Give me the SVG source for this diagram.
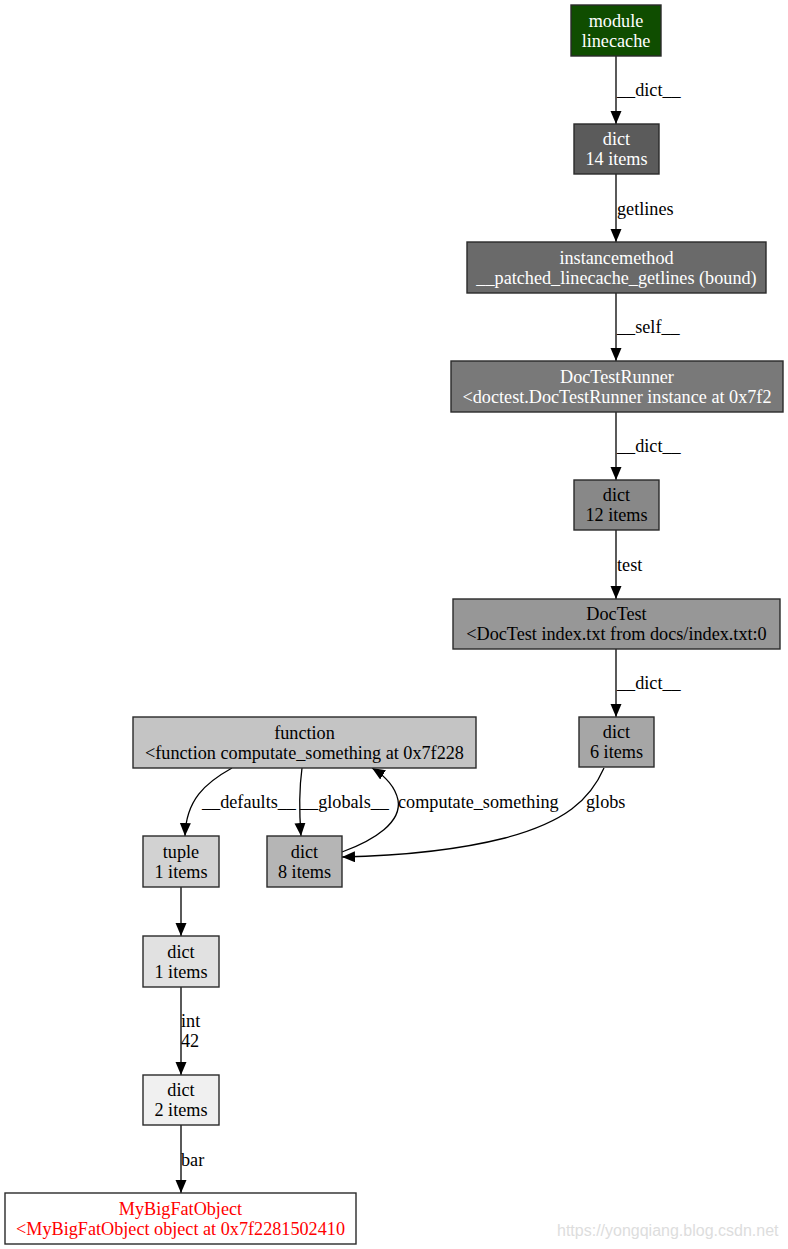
<svg xmlns="http://www.w3.org/2000/svg" width="788" height="1249" viewBox="0 0 788 1249">
<defs>
<marker id="arr" markerUnits="userSpaceOnUse" markerWidth="14" markerHeight="12" refX="13" refY="5.5" orient="auto">
<path d="M0,0 L13,5.5 L0,11 z" fill="#000"/>
</marker>
<style>
.n rect{stroke:#2a2a2a;stroke-width:1.4}
text{font-family:"Liberation Serif","Times New Roman",serif;font-size:18.2px}
.n text{text-anchor:middle}
.w text{fill:#fff}
.b text{fill:#000}
.r text{fill:#ff0000}
.e path{fill:none;stroke:#000;stroke-width:1.3;marker-end:url(#arr)}
.lbl{fill:#000}
.wm{font-family:"Liberation Sans",Arial,sans-serif;font-size:16px;fill:#dddddd}
</style>
</defs>
<rect width="788" height="1249" fill="#fff"/>
<g id="edges" class="e">
<path d="M616,56 L616,124"/>
<path d="M616,174 L616,242"/>
<path d="M616,293 L616,361"/>
<path d="M616,412 L616,480"/>
<path d="M616,530 L616,599"/>
<path d="M616,649 L616,717"/>
<path d="M604,768 C590,800 565,822 505,838 C450,852 390,856 342,857"/>
<path d="M232,768 C205,783 186,800 185,836"/>
<path d="M302,768 C299,790 299,810 301,836"/>
<path d="M342,852 C375,840 402,822 398,800 C395,786 385,776 372,768"/>
<path d="M181,887 L181,936"/>
<path d="M181,987 L181,1075"/>
<path d="M181,1125 L181,1193"/>
<g class="lbl">
<text x="617" y="96">__dict__</text>
<text x="617" y="215">getlines</text>
<text x="617" y="333">__self__</text>
<text x="617" y="452">__dict__</text>
<text x="617" y="571">test</text>
<text x="617" y="689">__dict__</text>
<text x="202" y="808">__defaults__</text>
<text x="300" y="808">__globals__</text>
<text x="398" y="808">computate_something</text>
<text x="586" y="808">globs</text>
<text x="181" y="1027">int</text>
<text x="181" y="1047">42</text>
<text x="181" y="1166">bar</text>
</g>
</g>
<g id="n_module" class="n w"><rect x="571" y="5" width="90" height="51" fill="#0f4d00"/><text x="616" y="26.5">module</text><text x="616" y="46.5">linecache</text></g>
<g id="n_dict14" class="n w"><rect x="574" y="124" width="85" height="50" fill="#5b5b5b"/><text x="616.5" y="145">dict</text><text x="616.5" y="165">14 items</text></g>
<g id="n_instancemethod" class="n w"><rect x="467" y="242" width="299" height="51" fill="#6a6a6a"/><text x="616.5" y="263.5">instancemethod</text><text x="616.5" y="283.5">__patched_linecache_getlines (bound)</text></g>
<g id="n_doctestrunner" class="n w"><rect x="451" y="361" width="332" height="51" fill="#797979"/><text x="617" y="382.5">DocTestRunner</text><text x="617" y="402.5">&lt;doctest.DocTestRunner instance at 0x7f2</text></g>
<g id="n_dict12" class="n b"><rect x="574" y="480" width="85" height="50" fill="#888888"/><text x="616.5" y="501">dict</text><text x="616.5" y="521">12 items</text></g>
<g id="n_doctest" class="n b"><rect x="453" y="599" width="327" height="50" fill="#979797"/><text x="616.5" y="620">DocTest</text><text x="616.5" y="640">&lt;DocTest index.txt from docs/index.txt:0</text></g>
<g id="n_dict6" class="n b"><rect x="579" y="717" width="75" height="50" fill="#a6a6a6"/><text x="616.5" y="738">dict</text><text x="616.5" y="758">6 items</text></g>
<g id="n_function" class="n b"><rect x="133" y="717" width="343" height="51" fill="#c4c4c4"/><text x="304.5" y="738.5">function</text><text x="304.5" y="758.5">&lt;function computate_something at 0x7f228</text></g>
<g id="n_tuple" class="n b"><rect x="143" y="836" width="76" height="51" fill="#d2d2d2"/><text x="181" y="857.5">tuple</text><text x="181" y="877.5">1 items</text></g>
<g id="n_dict8" class="n b"><rect x="267" y="836" width="75" height="51" fill="#b5b5b5"/><text x="304.5" y="857.5">dict</text><text x="304.5" y="877.5">8 items</text></g>
<g id="n_dict1" class="n b"><rect x="143" y="936" width="76" height="51" fill="#e1e1e1"/><text x="181" y="957.5">dict</text><text x="181" y="977.5">1 items</text></g>
<g id="n_dict2" class="n b"><rect x="143" y="1075" width="76" height="50" fill="#f0f0f0"/><text x="181" y="1096">dict</text><text x="181" y="1116">2 items</text></g>
<g id="n_target" class="n r"><rect x="5" y="1193" width="351" height="51" fill="#ffffff"/><text x="180.5" y="1214.5">MyBigFatObject</text><text x="180.5" y="1234.5">&lt;MyBigFatObject object at 0x7f2281502410</text></g>
<text class="wm" x="557" y="1236">https://yongqiang.blog.csdn.net</text>
</svg>
